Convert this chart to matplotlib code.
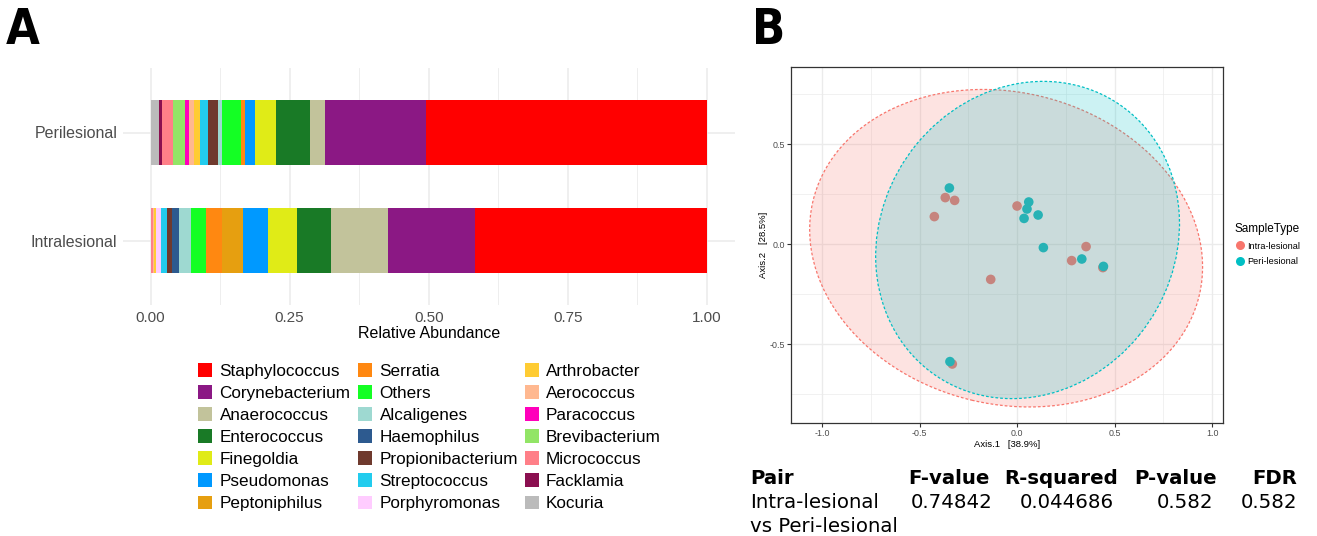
import matplotlib
matplotlib.use("Agg")
import matplotlib.pyplot as plt
from matplotlib.patches import Ellipse, Rectangle
from matplotlib.lines import Line2D

# ---------------- Panel A data: relative abundance per genus ----------------
genera = ["Staphylococcus", "Corynebacterium", "Anaerococcus", "Enterococcus",
          "Finegoldia", "Pseudomonas", "Peptoniphilus", "Serratia", "Others",
          "Alcaligenes", "Haemophilus", "Propionibacterium", "Streptococcus",
          "Porphyromonas", "Arthrobacter", "Aerococcus", "Paracoccus",
          "Brevibacterium", "Micrococcus", "Facklamia", "Kocuria"]
genus_colors = ["#FF0000", "#8B1884", "#C2C39B", "#197A26", "#E0EB17",
                "#0099FF", "#E69F10", "#FF8811", "#14FF24", "#9ED9D1",
                "#2D5A8F", "#6F3A2E", "#22CCEE", "#FFCCFF", "#FFCC33",
                "#FFB890", "#FF00BB", "#92E566", "#FF7F88", "#8B0F50",
                "#BBBBBB"]
samples = ["Intralesional", "Perilesional"]
perilesional = [0.5058, 0.1810, 0.0275, 0.0611, 0.0372, 0.0185, 0.0, 0.0072,
                0.0329, 0.0079, 0.0, 0.0180, 0.0131, 0.0, 0.0113, 0.0097,
                0.0077, 0.0216, 0.0185, 0.0061, 0.0149]
intralesional = [0.4170, 0.1565, 0.1018, 0.0606, 0.0522, 0.0462, 0.0378,
                 0.0280, 0.0270, 0.0223, 0.0113, 0.0102, 0.0100, 0.0085,
                 0.0040, 0.0030, 0.0, 0.0, 0.0036, 0.0, 0.0]
x_ticks_a = [0.0, 0.25, 0.5, 0.75, 1.0]
x_tick_labels_a = ["0.00", "0.25", "0.50", "0.75", "1.00"]

# ---------------- Panel B data: PCoA ordination ----------------
intra_x = [-0.368, -0.320, -0.424, 0.000, -0.135, 0.354, 0.280, 0.440, -0.332]
intra_y = [0.232, 0.218, 0.137, 0.190, -0.177, -0.013, -0.083, -0.118, -0.600]
peri_x = [-0.347, 0.060, 0.051, 0.036, 0.108, 0.135, 0.332, 0.443, -0.344]
peri_y = [0.280, 0.210, 0.175, 0.128, 0.145, -0.018, -0.075, -0.112, -0.588]
# 95% confidence ellipses: center x, center y, width, height, angle (deg)
intra_ellipse = (-0.056, -0.021, 2.036, 1.56, -13.0)
peri_ellipse = (0.054, 0.020, 1.652, 1.488, 50.0)
group_labels = ["Intra-lesional", "Peri-lesional"]
group_colors = ["#F8766D", "#00BFC4"]

# ---------------- PERMANOVA table ----------------
table_header = ["Pair", "F-value", "R-squared", "P-value", "FDR"]
table_row = ["Intra-lesional\nvs Peri-lesional", "0.74842", "0.044686", "0.582", "0.582"]

W, H = 1317, 536
fig = plt.figure(figsize=(W / 100, H / 100), dpi=100)


def fx(px):
    return px / W


def fy(py):
    return 1 - py / H


grid_col = "#EBEBEB"
text_gray = "#4D4D4D"
sans = ["Liberation Sans", "DejaVu Sans"]

# ======================= Panel A =======================
axA = fig.add_axes([fx(122.7), fy(305.3), fx(734.8) - fx(122.7), fy(67.7) - fy(305.3)])
axA.set_xlim(-0.05, 1.05)
axA.set_ylim(0.4, 2.6)
for s in axA.spines.values():
    s.set_visible(False)
axA.set_xticks(x_ticks_a)
axA.set_xticklabels(x_tick_labels_a, family=sans, fontsize=11, color=text_gray)
axA.set_xticks([0.125, 0.375, 0.625, 0.875], minor=True)
axA.set_yticks([1, 2])
axA.set_yticklabels(samples, family=sans, fontsize=11.5, color=text_gray)
axA.tick_params(axis="both", which="both", length=0)
axA.tick_params(axis="x", pad=4)
axA.tick_params(axis="y", pad=4)
axA.grid(True, which="major", color=grid_col, linewidth=1.1)
axA.grid(True, which="minor", axis="x", color=grid_col, linewidth=0.6)
axA.set_axisbelow(True)
axA.set_xlabel("Relative Abundance", family=sans, fontsize=11.5, labelpad=1)

for values, ypos in ((intralesional, 1), (perilesional, 2)):
    for i, (g, c) in enumerate(zip(genera, genus_colors)):
        left = sum(values[i + 1:])
        axA.barh(ypos, values[i], left=left, height=0.6, color=c, linewidth=0)

# legend grid (3 columns x 7 rows)
sq_x = [198.3, 358.3, 525.0]
txt_x = [219.5, 379.5, 546.0]
row_y0, row_dy, sq = 370.0, 22.05, 13.6
for i, (g, c) in enumerate(zip(genera, genus_colors)):
    col, row = divmod(i, 7)
    yc = row_y0 + row * row_dy
    fig.patches.append(Rectangle((fx(sq_x[col]), fy(yc + sq / 2)), sq / W, sq / H,
                                 transform=fig.transFigure, facecolor=c,
                                 edgecolor="none"))
    fig.text(fx(txt_x[col]), fy(yc), g, family=sans, fontsize=12.3,
             ha="left", va="center_baseline")

# ======================= Panel B =======================
axB = fig.add_axes([fx(791), fy(423), fx(1223) - fx(791), fy(67) - fy(423)])
axB.set_xlim(-1.159, 1.056)
axB.set_ylim(-0.895, 0.885)
axB.set_xticks([-1.0, -0.5, 0.0, 0.5, 1.0])
axB.set_xticklabels(["-1.0", "-0.5", "0.0", "0.5", "1.0"])
axB.set_xticks([-0.75, -0.25, 0.25, 0.75], minor=True)
axB.set_yticks([-0.5, 0.0, 0.5])
axB.set_yticklabels(["-0.5", "0.0", "0.5"])
axB.set_yticks([-0.75, -0.25, 0.25, 0.75], minor=True)
axB.grid(True, which="major", color=grid_col, linewidth=1.0)
axB.grid(True, which="minor", color=grid_col, linewidth=0.5)
axB.set_axisbelow(True)
for s in axB.spines.values():
    s.set_color("#333333")
    s.set_linewidth(0.9)
axB.tick_params(axis="both", which="major", length=3, width=0.8, color="#333333",
                labelsize=6.4, labelcolor=text_gray, pad=1.5)
axB.tick_params(axis="both", which="minor", length=0)
for lab in axB.get_xticklabels() + axB.get_yticklabels():
    lab.set_family(sans)
axB.set_xlabel("Axis.1   [38.9%]", family=sans, fontsize=6.8, labelpad=1.5)
axB.set_ylabel("Axis.2   [28.5%]", family=sans, fontsize=6.8, labelpad=1)

axB.scatter(intra_x, intra_y, s=48, color=group_colors[0], edgecolors="none", zorder=2)
axB.scatter(peri_x, peri_y, s=48, color=group_colors[1], edgecolors="none", zorder=2)

for (cx, cy, w, h, ang), col in ((intra_ellipse, group_colors[0]),
                                 (peri_ellipse, group_colors[1])):
    axB.add_patch(Ellipse((cx, cy), w, h, angle=ang, facecolor=col, alpha=0.2,
                          edgecolor="none", zorder=3))
    axB.add_patch(Ellipse((cx, cy), w, h, angle=ang, facecolor="none",
                          edgecolor=col, linestyle=(0, (2.2, 1.6)),
                          linewidth=0.9, zorder=3))

handles = [Line2D([], [], marker="o", linestyle="none", markersize=6.5,
                  markerfacecolor=c, markeredgecolor="none") for c in group_colors]
leg = fig.legend(handles, group_labels, title="SampleType", loc="upper left",
                 bbox_to_anchor=(fx(1231), fy(219)), frameon=False,
                 prop={"family": sans, "size": 6.6}, handletextpad=0.2,
                 labelspacing=0.75, borderaxespad=0, handlelength=1.2)
leg.get_title().set_fontsize(8.5)
leg.get_title().set_family(sans)
leg._legend_box.align = "left"

# ======================= PERMANOVA table =======================
tbl_font = "DejaVu Sans"
tsize = 14.2
col_right = [None, 990, 1118, 1217, 1297]
fig.text(fx(750), fy(476), table_header[0], family=tbl_font, fontsize=tsize,
         weight="bold", ha="left", va="center_baseline")
for txt, xr in zip(table_header[1:], col_right[1:]):
    fig.text(fx(xr), fy(476), txt, family=tbl_font, fontsize=tsize,
             weight="bold", ha="right", va="center_baseline")
pair_lines = table_row[0].split("\n")
fig.text(fx(750), fy(500), pair_lines[0], family=tbl_font, fontsize=tsize,
         ha="left", va="center_baseline")
fig.text(fx(750), fy(524), pair_lines[1], family=tbl_font, fontsize=tsize,
         ha="left", va="center_baseline")
for txt, xr in zip(table_row[1:], [992, 1114, 1213, 1297]):
    fig.text(fx(xr), fy(500), txt, family=tbl_font, fontsize=tsize,
             ha="right", va="center_baseline")

# ======================= Panel letters =======================
for letter, xp in (("A", 6), ("B", 752)):
    fig.text(fx(xp), fy(44), letter, family="DejaVu Sans", fontstretch="condensed",
             weight="bold", fontsize=35, ha="left", va="baseline")

fig.savefig("out.png", dpi=100)
